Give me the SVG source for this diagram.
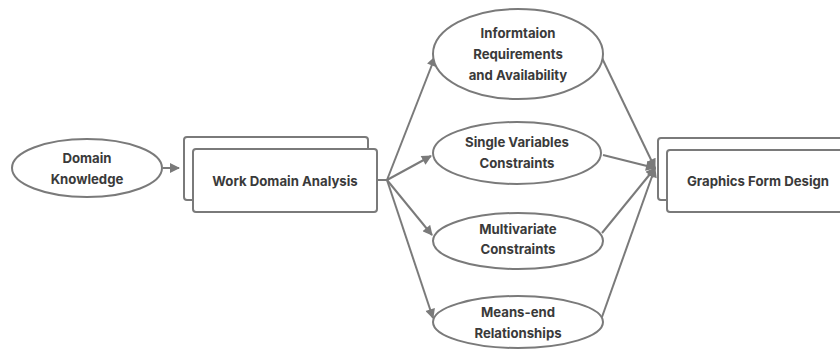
<svg xmlns="http://www.w3.org/2000/svg" width="840" height="351" viewBox="0 0 840 351">
  <style>
    .shape { fill: #ffffff; stroke: #7a7a7a; stroke-width: 2; }
    .edge { fill: none; stroke: #7a7a7a; stroke-width: 2; }
    .label { font-family: Inter, "Liberation Sans", sans-serif; font-weight: 700; font-size: 13.2px; fill: #3a3a3a; text-anchor: middle; }
  </style>
  <defs>
    <marker id="arrow" viewBox="0 0 10 10" refX="9" refY="5" markerWidth="5.5" markerHeight="5" markerUnits="strokeWidth" orient="auto">
      <path d="M0,0 L10,5 L0,10 Z" fill="#7a7a7a"/>
    </marker>
  </defs>
  <rect width="840" height="351" fill="#ffffff"/>

  <g id="connectors">
    <line class="edge" x1="163" y1="168" x2="179" y2="168" marker-end="url(#arrow)"/>
    <polyline class="edge" points="376,180 387,180"/>
    <line class="edge" x1="387" y1="180" x2="435" y2="57" marker-end="url(#arrow)"/>
    <line class="edge" x1="387" y1="180" x2="431" y2="156" marker-end="url(#arrow)"/>
    <line class="edge" x1="387" y1="180" x2="432" y2="235" marker-end="url(#arrow)"/>
    <line class="edge" x1="387" y1="180" x2="433" y2="318" marker-end="url(#arrow)"/>
    <line class="edge" x1="602" y1="58" x2="655" y2="168" marker-end="url(#arrow)"/>
    <line class="edge" x1="603" y1="155" x2="655" y2="168" marker-end="url(#arrow)"/>
    <line class="edge" x1="602" y1="233" x2="655" y2="168" marker-end="url(#arrow)"/>
    <line class="edge" x1="602" y1="317" x2="655" y2="168" marker-end="url(#arrow)"/>
  </g>

  <g id="domain-knowledge">
    <ellipse class="shape" cx="87" cy="168" rx="75" ry="29"/>
    <text class="label" x="87" y="163">Domain</text>
    <text class="label" x="87" y="184">Knowledge</text>
  </g>

  <g id="work-domain-analysis">
    <rect class="shape" x="184" y="137" width="184" height="63" rx="3"/>
    <rect class="shape" x="193" y="149" width="184" height="63" rx="3"/>
    <text class="label" x="285" y="186">Work Domain Analysis</text>
  </g>

  <g id="information-requirements">
    <ellipse class="shape" cx="518" cy="54" rx="85" ry="45"/>
    <text class="label" x="518" y="38">Informtaion</text>
    <text class="label" x="518" y="59">Requirements</text>
    <text class="label" x="518" y="80">and Availability</text>
  </g>

  <g id="single-variables">
    <ellipse class="shape" cx="517" cy="153" rx="84" ry="31"/>
    <text class="label" x="517" y="147">Single Variables</text>
    <text class="label" x="517" y="168">Constraints</text>
  </g>

  <g id="multivariate">
    <ellipse class="shape" cx="518" cy="241" rx="85" ry="28"/>
    <text class="label" x="518" y="234">Multivariate</text>
    <text class="label" x="518" y="254">Constraints</text>
  </g>

  <g id="means-end">
    <ellipse class="shape" cx="518" cy="322" rx="85" ry="26"/>
    <text class="label" x="518" y="317">Means-end</text>
    <text class="label" x="518" y="338">Relationships</text>
  </g>

  <g id="graphics-form-design">
    <rect class="shape" x="658" y="138" width="200" height="62" rx="3"/>
    <rect class="shape" x="667" y="150" width="200" height="62" rx="3"/>
    <text class="label" x="758" y="186">Graphics Form Design</text>
  </g>
</svg>
